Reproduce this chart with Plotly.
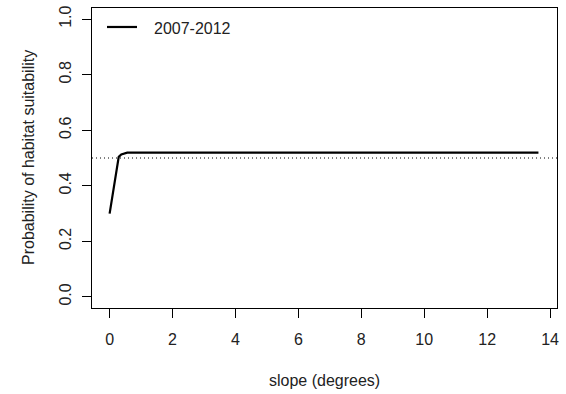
import plotly.graph_objects as go

slope_deg = [0.0, 0.29, 0.37, 0.56, 13.63]
prob_suit = [0.30, 0.504, 0.513, 0.519, 0.519]
series_name = "2007-2012"
threshold = 0.5
x_ticks = [0, 2, 4, 6, 8, 10, 12, 14]
y_ticks = [0.0, 0.2, 0.4, 0.6, 0.8, 1.0]
y_tick_text = ["0.0", "0.2", "0.4", "0.6", "0.8", "1.0"]

FONT = "Liberation Sans, Arial, sans-serif"
TXT = "#222"

fig = go.Figure()
fig.add_trace(go.Scatter(x=slope_deg, y=prob_suit, mode="lines", name=series_name,
                         line=dict(color="black", width=2.2), showlegend=False))
fig.add_shape(type="line", xref="paper", x0=0, x1=1, yref="y", y0=threshold, y1=threshold,
              line=dict(color="black", width=1, dash="1px,3px"))

# legend key (drawn manually to match R legend spacing)
fig.add_shape(type="line", xref="paper", yref="paper", x0=0.0323, x1=0.0968,
              y0=0.9367, y1=0.9367, line=dict(color="black", width=2.2))
fig.add_annotation(text=series_name, xref="paper", yref="paper", x=0.129, y=0.93,
                   xanchor="left", yanchor="middle", showarrow=False,
                   font=dict(family=FONT, size=16, color=TXT))

axis_common = dict(showline=True, mirror=True, linecolor="black", linewidth=1,
                   ticks="outside", ticklen=9, tickwidth=1, tickcolor="black",
                   showgrid=False, zeroline=False, automargin=False,
                   ticklabeloverflow="allow",
                   tickfont=dict(family=FONT, size=16, color=TXT))

fig.update_xaxes(range=[-0.56, 14.22], tickvals=x_ticks, ticklabelstandoff=8, **axis_common)
fig.update_yaxes(range=[-0.04, 1.04], tickvals=y_ticks, ticktext=y_tick_text,
                 tickangle=-90, ticklabelstandoff=5, **axis_common)

fig.add_annotation(text="slope (degrees)", xref="paper", yref="paper", x=0.5, y=-0.24,
                   xanchor="center", yanchor="middle", showarrow=False,
                   font=dict(family=FONT, size=16, color=TXT))
fig.add_annotation(text="Probability of habitat suitability", xref="paper", yref="paper",
                   x=-0.1376, y=0.5, xanchor="center", yanchor="middle", textangle=-90,
                   showarrow=False, font=dict(family=FONT, size=16, color=TXT))

fig.update_layout(
    width=566, height=394,
    margin=dict(l=92, r=9, t=8, b=86),
    paper_bgcolor="white", plot_bgcolor="white",
    font=dict(family=FONT, size=16, color=TXT),
    showlegend=False,
)

fig.write_html("out.html", config={"displayModeBar": False},
               post_script="document.body.style.margin='0';document.body.style.padding='0';")
